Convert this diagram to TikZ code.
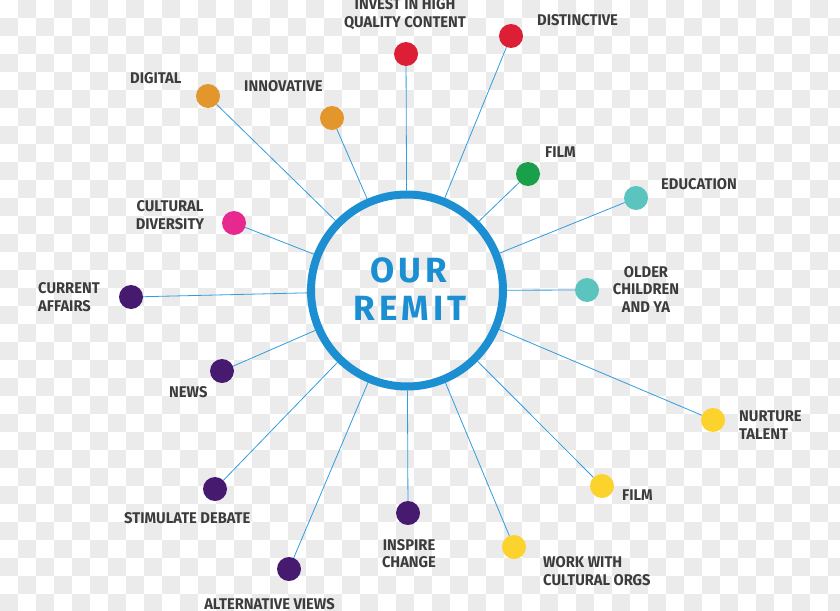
\documentclass[tikz,border=0pt]{standalone}
\usepackage{fontspec}
\setmainfont{Fira Sans}
\newfontfamily\labfont{Fira Sans}[FakeStretch=0.95]
\newfontfamily\remitfont{Fira Sans}[LetterSpace=11]
\definecolor{chk}{HTML}{EBEBEB}
\definecolor{remitblue}{HTML}{1B8FD2}
\definecolor{lineblue}{HTML}{2F9DE0}
\definecolor{txt}{HTML}{3C3C3C}
\definecolor{cred}{HTML}{DC1F34}
\definecolor{corange}{HTML}{E3962B}
\definecolor{cgreen}{HTML}{1AA04B}
\definecolor{cteal}{HTML}{5BC4BF}
\definecolor{cpink}{HTML}{E6288F}
\definecolor{cpurple}{HTML}{461A6E}
\definecolor{cyellow}{HTML}{FCD22C}
\tikzset{
  dot/.style={circle, inner sep=0pt, minimum size=24pt, fill=#1},
  lab/.style={text=txt, inner sep=0pt, font=\labfont\bfseries\fontsize{15.5}{17.5}\selectfont},
  link/.style={draw=lineblue, line width=0.8pt},
}
\begin{document}
\begin{tikzpicture}[x=1pt,y=-1pt]
\useasboundingbox (0,0) rectangle (840,610);
% checkerboard background
\begin{scope}
\clip (0,0) rectangle (840,610);
\foreach \j in {0,...,33}{
  \pgfmathtruncatemacro\st{mod(\j+1,2)}
  \pgfmathtruncatemacro\stt{\st+2}
  \foreach \i in {\st,\stt,...,46}{
    \fill[chk] (\i*18,\j*18) rectangle ++(18,18);
  }
}
\end{scope}
% centre
\node[circle, draw=remitblue, line width=8pt, minimum size=192pt, inner sep=0pt] (c) at (407,290.5) {};
\node[text=remitblue, font=\remitfont\bfseries\fontsize{35}{40}\selectfont, inner sep=0pt] (our) at (409,270) {OUR};
\node[text=remitblue, font=\remitfont\bfseries\fontsize{35}{40}\selectfont, inner sep=0pt] (remit) at (410,308) {REMIT};
% dots
\node[dot=cred] (invest) at (406,54) {};
\node[dot=cred] (dist) at (511,36) {};
\node[dot=corange] (digital) at (208,96) {};
\node[dot=corange] (innov) at (332,118) {};
\node[dot=cgreen] (film1) at (528,174) {};
\node[dot=cteal] (edu) at (636,198) {};
\node[dot=cpink] (cult) at (234,223) {};
\node[dot=cpurple] (curr) at (131,297) {};
\node[dot=cteal] (older) at (587,290) {};
\node[dot=cpurple] (news) at (222,371) {};
\node[dot=cyellow] (nurt) at (713,420) {};
\node[dot=cyellow] (film2) at (602,486) {};
\node[dot=cpurple] (stim) at (215,489) {};
\node[dot=cpurple] (insp) at (408,513) {};
\node[dot=cyellow] (work) at (514,547) {};
\node[dot=cpurple] (alt) at (289,569) {};
% connectors
\foreach \d in {invest,dist,digital,innov,film1,edu,cult,curr,older,news,nurt,film2,stim,insp,work,alt}{
  \draw[link] (\d) -- (c);
}
% labels
\node[lab, align=center] (tinvest) at (405,14) {INVEST IN HIGH\\QUALITY CONTENT};
\node[lab, anchor=west] (tdist) at (537,20.5) {DISTINCTIVE};
\node[lab, anchor=west] (tdigital) at (130,78) {DIGITAL};
\node[lab, anchor=west] (tinnov) at (244,86) {INNOVATIVE};
\node[lab, anchor=west] (tfilm1) at (545,152.5) {FILM};
\node[lab, anchor=west] (tedu) at (661,184) {EDUCATION};
\node[lab, align=center] (tcult) at (170,215) {CULTURAL\\DIVERSITY};
\node[lab, align=left, anchor=west] (tcurr) at (38,297) {CURRENT\\AFFAIRS};
\node[lab, align=center] (tolder) at (646,289) {OLDER\\CHILDREN\\AND YA};
\node[lab, anchor=west] (tnews) at (169,392.5) {NEWS};
\node[lab, align=left, anchor=west] (tnurt) at (739,425) {NURTURE\\TALENT};
\node[lab, anchor=west] (tfilm2) at (622,495) {FILM};
\node[lab, anchor=west] (tstim) at (124,518.5) {STIMULATE DEBATE};
\node[lab, align=center] (tinsp) at (409,553.5) {INSPIRE\\CHANGE};
\node[lab, align=left, anchor=west] (twork) at (543,571) {WORK WITH\\CULTURAL ORGS};
\node[lab] (talt) at (269.5,604) {ALTERNATIVE VIEWS};
\end{tikzpicture}
\end{document}
